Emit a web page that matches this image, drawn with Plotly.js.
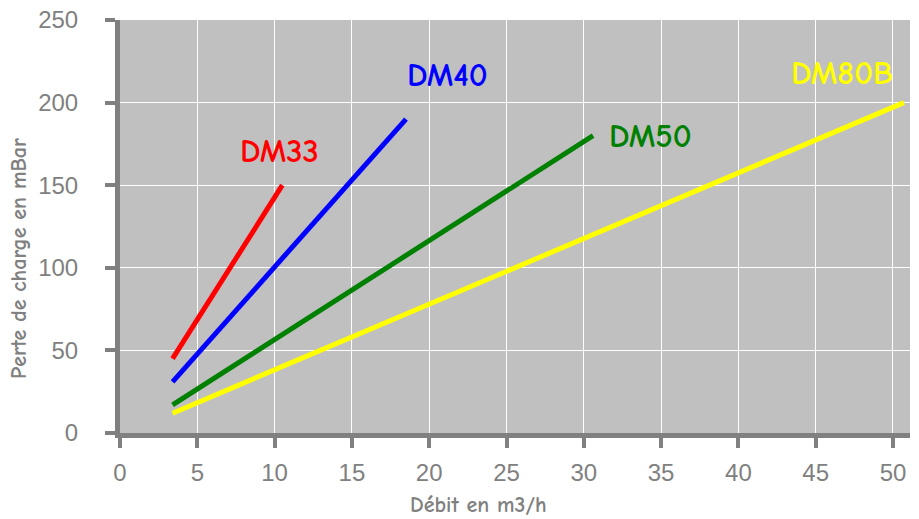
<!DOCTYPE html>
<html><head><meta charset="utf-8">
<script src="https://cdn.plot.ly/plotly-3.0.1.min.js"></script>
<style>html,body{margin:0;padding:0;background:#fff}#chart{width:919px;height:519px}</style>
</head><body><div id="chart"></div>
<script>
// Data
const seriesNames = ["DM33", "DM40", "DM50", "DM80B"];
const seriesColors = ["#ff0000", "#0000ff", "#008000", "#ffff00"];
const dm33X = [3.4, 10.5];
const dm33Y = [45, 150];
const dm40X = [3.4, 18.5];
const dm40Y = [31, 190];
const dm50X = [3.4, 30.6];
const dm50Y = [17, 180];
const dm80bX = [3.4, 50.7];
const dm80bY = [12, 200];
const labelX = [10.3, 21.2, 34.3, 46.7];
const labelY = [171, 217, 180, 218];
const xTicks = [0, 5, 10, 15, 20, 25, 30, 35, 40, 45, 50];
const yTicks = [0, 50, 100, 150, 200, 250];
const xTitle = "Débit en m3/h";
const yTitle = "Perte de charge en mBar";

const xs = [dm33X, dm40X, dm50X, dm80bX];
const ys = [dm33Y, dm40Y, dm50Y, dm80bY];
const traces = seriesNames.map((n, i) => ({
  x: xs[i], y: ys[i], type: 'scatter', mode: 'lines', name: n,
  line: {color: seriesColors[i], width: 5}, hoverinfo: 'skip'
}));
const labelFont = '"Comic Sans MS", "Comic Neue", Lato, "DejaVu Sans", sans-serif';
const annotations = seriesNames.map((n, i) => ({
  x: labelX[i], y: labelY[i], xref: 'x', yref: 'y', text: '<b>' + n + '</b>',
  showarrow: false, font: {family: labelFont, size: 33, color: seriesColors[i]}
}));
const W = 919, H = 519, mL = 120, mR = 9, mT = 20, mB = 86;
const px2x = p => (p - mL) / (W - mL - mR);
const px2y = p => (H - mB - p) / (H - mT - mB);
annotations.push({
  x: px2x(478), y: px2y(505), xref: 'paper', yref: 'paper', xanchor: 'center', yanchor: 'middle',
  text: '<b>' + xTitle + '</b>', showarrow: false,
  font: {family: labelFont, size: 22, color: '#808080'}
});
annotations.push({
  x: px2x(19), y: px2y(259), xref: 'paper', yref: 'paper', xanchor: 'center', yanchor: 'middle',
  text: '<b>' + yTitle + '</b>', showarrow: false, textangle: -90,
  font: {family: labelFont, size: 22, color: '#808080'}
});
const tickFont = {family: '"Liberation Sans Narrow", "Liberation Sans", Arial, sans-serif', size: 24, color: '#808080'};
const layout = {
  width: W, height: H,
  margin: {l: mL, r: mR, t: mT, b: mB},
  paper_bgcolor: '#ffffff', plot_bgcolor: '#c0c0c0',
  showlegend: false,
  xaxis: {
    range: [0, 51.1], tickvals: xTicks, ticktext: xTicks.map(String),
    showgrid: true, gridcolor: '#ffffff', gridwidth: 1, zeroline: false,
    showline: true, linecolor: '#808080', linewidth: 5,
    ticks: 'outside', ticklen: 10, tickwidth: 4, tickcolor: '#808080',
    ticklabelstandoff: 4,
    tickfont: tickFont
  },
  yaxis: {
    range: [0, 250], tickvals: yTicks, ticktext: yTicks.map(String),
    showgrid: true, gridcolor: '#ffffff', gridwidth: 1, zeroline: false,
    showline: true, linecolor: '#808080', linewidth: 5,
    ticks: 'outside', ticklen: 10, tickwidth: 4, tickcolor: '#808080',
    ticklabelstandoff: 22,
    tickfont: tickFont
  },
  annotations: annotations
};
Plotly.newPlot('chart', traces, layout, {displayModeBar: false, staticPlot: true});
</script></body></html>
